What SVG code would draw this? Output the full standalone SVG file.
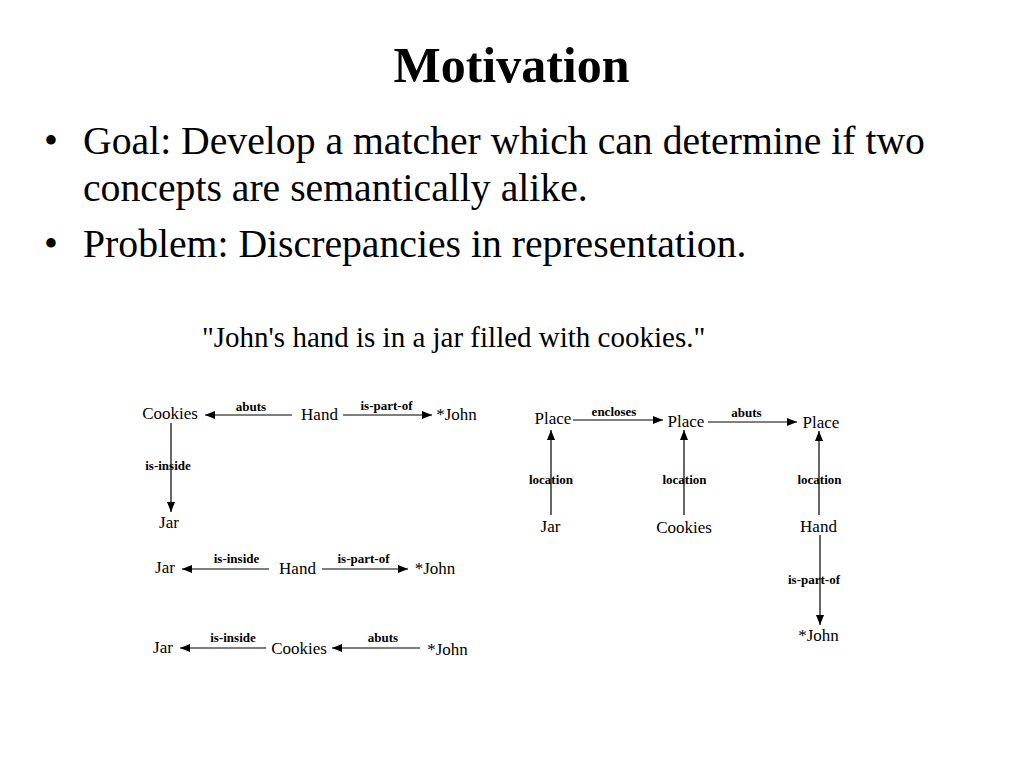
<svg xmlns="http://www.w3.org/2000/svg" width="1024" height="768" viewBox="0 0 1024 768">
<defs>
<marker id="arr" markerUnits="userSpaceOnUse" markerWidth="10" markerHeight="10" viewBox="0 0 10 10" refX="10" refY="5" orient="auto">
<path d="M0,1 L10,5 L0,9 Z" fill="#000"/>
</marker>
<style>
.title{font-family:"Liberation Serif","Times New Roman",serif;font-size:50px;font-weight:bold;fill:#000}
.body{font-family:"Liberation Serif","Times New Roman",serif;font-size:39.7px;fill:#000}
.quote{font-family:"Liberation Serif","Times New Roman",serif;font-size:29px;fill:#000}
.node{font-family:"Liberation Serif","Times New Roman",serif;font-size:17px;fill:#000;text-anchor:middle}
.el{font-family:"Liberation Serif","Times New Roman",serif;font-size:13px;font-weight:bold;fill:#000;text-anchor:middle}
.edge{stroke:#000;stroke-width:1.2;fill:none;marker-end:url(#arr)}
</style>
</defs>
<rect width="1024" height="768" fill="#fff"/>
<text class="title" x="511.5" y="82" text-anchor="middle">Motivation</text>
<g id="bullets">
<text class="body" x="44" y="154">•</text>
<text class="body" x="83" y="154">Goal: Develop a matcher which can determine if two</text>
<text class="body" x="83" y="201">concepts are semantically alike.</text>
<text class="body" x="44" y="257">•</text>
<text class="body" x="83" y="257">Problem: Discrepancies in representation.</text>
</g>
<text class="quote" x="202" y="347">"John's hand is in a jar filled with cookies."</text>

<g id="connectors">
<line class="edge" x1="292" y1="415" x2="205" y2="415"/>
<line class="edge" x1="343" y1="415" x2="432" y2="415"/>
<line class="edge" x1="171" y1="423" x2="171" y2="512"/>
<line class="edge" x1="269" y1="569" x2="182" y2="569"/>
<line class="edge" x1="322" y1="569" x2="408" y2="569"/>
<line class="edge" x1="266" y1="648" x2="180" y2="648"/>
<line class="edge" x1="420" y1="648" x2="332" y2="648"/>
<line class="edge" x1="573" y1="420" x2="663" y2="420"/>
<line class="edge" x1="708" y1="422" x2="797" y2="422"/>
<line class="edge" x1="551" y1="515" x2="551" y2="430"/>
<line class="edge" x1="684" y1="515" x2="684" y2="430"/>
<line class="edge" x1="819" y1="515" x2="819" y2="431"/>
<line class="edge" x1="820" y1="535" x2="820" y2="625"/>
<text class="el" x="251" y="411">abuts</text>
<text class="el" x="386.5" y="410">is-part-of</text>
<text class="el" x="168" y="470">is-inside</text>
<text class="el" x="236.5" y="563">is-inside</text>
<text class="el" x="363.5" y="563">is-part-of</text>
<text class="el" x="233" y="642">is-inside</text>
<text class="el" x="383" y="642">abuts</text>
<text class="el" x="614" y="416">encloses</text>
<text class="el" x="746.5" y="417">abuts</text>
<text class="el" x="551" y="484">location</text>
<text class="el" x="684.5" y="484">location</text>
<text class="el" x="819.5" y="484">location</text>
<text class="el" x="814" y="584">is-part-of</text>
</g>

<g id="n-cookies1"><text class="node" x="170" y="419">Cookies</text></g>
<g id="n-hand1"><text class="node" x="319.5" y="420">Hand</text></g>
<g id="n-john1"><text class="node" x="456.5" y="420">*John</text></g>
<g id="n-jar1"><text class="node" x="169" y="528">Jar</text></g>

<g id="n-jar2"><text class="node" x="165" y="573">Jar</text></g>
<g id="n-hand2"><text class="node" x="297.5" y="574">Hand</text></g>
<g id="n-john2"><text class="node" x="435" y="574">*John</text></g>

<g id="n-jar3"><text class="node" x="163" y="653">Jar</text></g>
<g id="n-cookies3"><text class="node" x="299" y="654">Cookies</text></g>
<g id="n-john3"><text class="node" x="447.5" y="655">*John</text></g>

<g id="n-place1"><text class="node" x="553" y="424">Place</text></g>
<g id="n-place2"><text class="node" x="686" y="427">Place</text></g>
<g id="n-place3"><text class="node" x="821" y="428">Place</text></g>
<g id="n-jar4"><text class="node" x="550.5" y="532">Jar</text></g>
<g id="n-cookies4"><text class="node" x="684" y="533">Cookies</text></g>
<g id="n-hand4"><text class="node" x="818.5" y="532">Hand</text></g>
<g id="n-john4"><text class="node" x="818.5" y="641">*John</text></g>
</svg>
